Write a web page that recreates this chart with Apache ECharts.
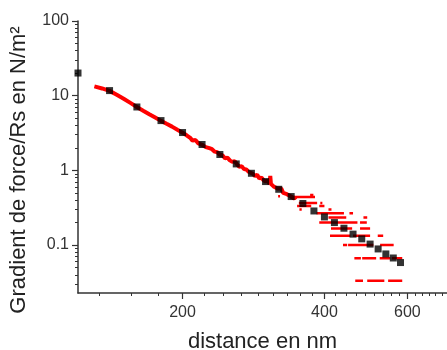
<!DOCTYPE html>
<html><head><meta charset="utf-8">
<script src="https://cdn.jsdelivr.net/npm/echarts@6/dist/echarts.min.js"></script>
<style>html,body{margin:0;padding:0;background:#fff}#c{width:447px;height:350px}</style>
</head><body><div id="c"></div>
<script>
// Black square markers (distance nm, gradient N/m^2)
const squareX = [120,140,160,180,200,220,240,260,280,300,320,340,360,380,400,420,440,460,480,500,520,540,560,580];
const squareY = [20.1,11.7,7.06,4.64,3.21,2.22,1.63,1.22,0.914,0.708,0.558,0.446,0.36,0.286,0.238,0.2,0.168,0.14,0.121,0.103,0.0887,0.076,0.0671,0.0583];

// Red measured curve (continuous part)
const redLineX = [130,135,140,145,150,155,160,165,170,175,180,185,190,195,200,204,208,210,213,216,220,224,228,231,234,237,240,243,246,249,252,255,258,261,264,267,270,273,276,279,282,285,288,291,294,297,300,303,306,307,308,312,315,318,321,324,327,330,333,336,339,342,345,348];
const redLineY = [13.3,12.5,11.6,10.3,9.1,8.0,7.05,6.3,5.65,5.1,4.6,4.2,3.85,3.5,3.2,2.95,2.7,2.5,2.55,2.3,2.2,2.05,1.98,1.92,1.78,1.75,1.62,1.6,1.45,1.48,1.36,1.3,1.33,1.2,1.12,1.14,1.04,1.03,0.96,0.93,0.9,0.84,0.87,0.78,0.8,0.74,0.71,0.73,0.66,0.84,0.66,0.61,0.63,0.57,0.55,0.57,0.5,0.53,0.48,0.5,0.45,0.44,0.42,0.44];

// Red measured curve (quantized noisy part): horizontal runs start x, end x, level
const dashStartX = [338,373,319,353,392,350,390,354,408,385,452,408,484,390,476,413,476,411,460,519,438,449,525,463,481,524,556,465,493,546];
const dashEndX   = [382,379,322,386,396,375,400,358,414,440,460,445,493,470,492,458,500,454,500,533,447,508,561,478,515,552,585,483,536,585];
const dashY      = [0.44,0.467,0.45,0.367,0.367,0.333,0.333,0.3,0.3,0.267,0.267,0.233,0.233,0.2,0.2,0.167,0.167,0.133,0.133,0.133,0.1,0.1,0.1,0.0667,0.0667,0.0667,0.0667,0.0333,0.0333,0.0333];

// Axis ticks
const xMajorTicks = [200,400,600];
const xMinorTicks = [133.3,155.6,177.8,222.2,244.4,266.7,288.9,311.1,333.3,355.6,377.8,422.2,444.4,466.7,488.9,511.1,533.3,555.6,577.8,622.2,644.4,666.7,688.9,711.1];
const yMajorTicks = [0.1,1,10,100];
const yMinorTicks = [0.03,0.04,0.05,0.06,0.07,0.08,0.09,0.2,0.3,0.4,0.5,0.6,0.7,0.8,0.9,2,3,4,5,6,7,8,9,20,30,40,50,60,70,80,90];

const FONT = '"Liberation Sans", Arial, sans-serif';
const AX = '#333';

const redLineData = redLineX.map((x,i)=>[x, redLineY[i]]);
const dashData = [];
dashStartX.forEach((x,i)=>{
  dashData.push([x, dashY[i]]);
  dashData.push([dashEndX[i], dashY[i]]);
  dashData.push([dashEndX[i], '-']);
});
const squareData = squareX.map((x,i)=>[x, squareY[i]]);

const chart = echarts.init(document.getElementById('c'), null, {renderer:'canvas'});
chart.setOption({
  animation:false,
  backgroundColor:'#fff',
  grid:{left:78, right:0, top:21, bottom:57, containLabel:false, outerBoundsMode:'none'},
  xAxis:[
    {type:'log', logBase:10, min:120, max:728, position:'bottom',
     axisLine:{show:true, lineStyle:{color:AX, width:1.5}},
     axisTick:{show:true, customValues:xMajorTicks, length:6, inside:false, lineStyle:{color:AX, width:1.2}},
     axisLabel:{show:true, customValues:xMajorTicks, fontSize:16, color:'#333', margin:12, fontFamily:FONT,
       formatter:v=>String(Math.round(v))},
     splitLine:{show:false}, minorTick:{show:false},
     name:'distance en nm', nameLocation:'middle', nameGap:38,
     nameTextStyle:{fontSize:22, color:'#222', fontFamily:FONT}},
    {type:'log', logBase:10, min:120, max:728, position:'bottom',
     axisLine:{show:false},
     axisTick:{show:true, customValues:xMinorTicks, length:3, lineStyle:{color:AX, width:1}},
     axisLabel:{show:false}, splitLine:{show:false}}
  ],
  yAxis:[
    {type:'log', logBase:10, min:0.0228, max:100, position:'left',
     axisLine:{show:true, lineStyle:{color:AX, width:1.5}},
     axisTick:{show:true, customValues:yMajorTicks, length:6, lineStyle:{color:AX, width:1.2}},
     axisLabel:{show:true, customValues:yMajorTicks, fontSize:16, color:'#333', margin:9, fontFamily:FONT,
       formatter:v=>(v<1? String(+v.toFixed(2)) : String(Math.round(v)))},
     splitLine:{show:false}, minorTick:{show:false},
     name:'Gradient de force/Rs en N/m²', nameLocation:'middle', nameGap:48, nameRotate:90,
     nameTextStyle:{fontSize:22, color:'#222', fontFamily:FONT, padding:[0,26,0,0]}},
    {type:'log', logBase:10, min:0.0228, max:100, position:'left',
     axisLine:{show:false},
     axisTick:{show:true, customValues:yMinorTicks, length:3, lineStyle:{color:AX, width:1}},
     axisLabel:{show:false}, splitLine:{show:false}}
  ],
  series:[
    {type:'line', name:'mesure', xAxisIndex:0, yAxisIndex:0, data:redLineData, showSymbol:false, symbol:'none',
     lineStyle:{color:'#ff0000', width:4}, z:2},
    {type:'line', name:'mesure bruit', xAxisIndex:0, yAxisIndex:0, data:dashData, showSymbol:false, symbol:'none', connectNulls:false,
     lineStyle:{color:'#ff0000', width:2.5}, z:2},
    {type:'scatter', name:'points', xAxisIndex:0, yAxisIndex:0, data:squareData, symbol:'rect', symbolSize:7,
     itemStyle:{color:'#000'}, z:5, clip:false}
  ]
});
</script></body></html>
